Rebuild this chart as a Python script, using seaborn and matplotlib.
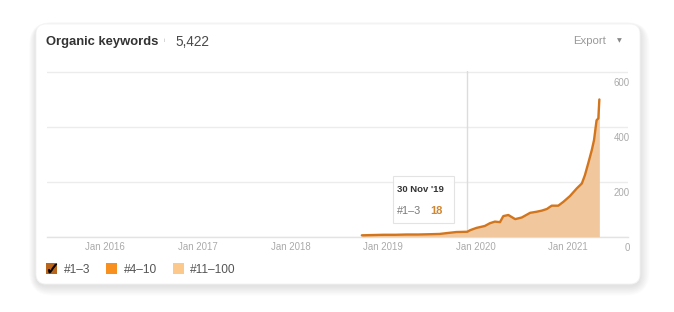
import matplotlib
matplotlib.use("Agg")
import matplotlib.pyplot as plt
import matplotlib.dates as mdates
from matplotlib.patches import FancyBboxPatch, Rectangle, Patch
from matplotlib.lines import Line2D
from matplotlib.transforms import ScaledTranslation
import pandas as pd
import seaborn as sns

# ---------------- data ----------------
dates = ["2018-10-10", "2018-11-20", "2019-01-05", "2019-02-20", "2019-04-05",
         "2019-05-20", "2019-07-05", "2019-08-13", "2019-09-09", "2019-10-18",
         "2019-11-30", "2019-12-12", "2020-01-05", "2020-02-07", "2020-02-27",
         "2020-03-18", "2020-04-07", "2020-04-20", "2020-05-10", "2020-06-06",
         "2020-07-02", "2020-08-04", "2020-08-30", "2020-09-19", "2020-10-09",
         "2020-10-28", "2020-11-23", "2020-12-13", "2021-01-08", "2021-02-04",
         "2021-02-24", "2021-03-08", "2021-03-21", "2021-04-04", "2021-04-13",
         "2021-04-23", "2021-04-30", "2021-05-04"]
top3 = [5, 6, 7, 7, 8, 8, 9, 10, 13, 17, 18, 24, 32, 39, 49, 55, 53, 75, 79, 64,
        70, 87, 91, 95, 101, 113, 113, 127, 148, 176, 194, 224, 267, 315, 352,
        424, 431, 500]
y_ticks = [0, 200, 400, 600]
legend_labels = ["#1–3", "#4–10", "#11–100"]
legend_colors = ["#b9661c", "#f7901e", "#fcc88c"]
title = "Organic keywords"
total = "5,422"
tooltip_date = "2019-11-30"
tooltip_title = "30 Nov '19"
tooltip_value = "18"

df = pd.DataFrame({"date": pd.to_datetime(dates), "value": top3})

# ---------------- style ----------------
sns.set_style("white")
plt.rcParams["font.family"] = ["Liberation Sans", "DejaVu Sans"]

W, H = 674, 312
fig = plt.figure(figsize=(W / 100, H / 100), dpi=100)
fig.patch.set_facecolor("white")

# background canvas in pixel coordinates
bg = fig.add_axes([0, 0, 1, 1], zorder=0)
bg.set_xlim(0, W)
bg.set_ylim(H, 0)
bg.axis("off")

cx0, cy0, cx1, cy1 = 36, 24, 640, 284
for i in range(14, 0, -1):
    bg.add_patch(FancyBboxPatch((cx0 - i * 0.5, cy0 - i * 0.3 + 2), (cx1 - cx0) + i * 1.2,
                                (cy1 - cy0) + i * 1.0,
                                boxstyle="round,pad=0,rounding_size=%d" % (10 + i),
                                facecolor="#000000", edgecolor="none", alpha=0.008))
bg.add_patch(FancyBboxPatch((cx0, cy0), cx1 - cx0, cy1 - cy0,
                            boxstyle="round,pad=0,rounding_size=10",
                            facecolor="white", edgecolor="#f3f3f3", lw=0.6))

# header texts
bg.text(46, 42, title, fontsize=9.4, fontweight="bold", color="#333333", va="center", ha="left")
bg.text(163.5, 40, "i", fontsize=4.5, color="#bbbbbb", va="center", ha="left")
bg.text(175, 42, total, fontsize=9.8, color="#4a4a4a", va="center", ha="left")
bg.text(573, 41.5, "Export", fontsize=8.2, color="#999999", va="center", ha="left")
bg.text(617, 41, "▼", fontsize=4.5, color="#888888", va="center", ha="left",
        family=["DejaVu Sans"])

# ---------------- main plot ----------------
px_left, px_right, px_base = 47, 628, 236.7
ymax = 604
px_per_unit = (236.7 - 72) / 600
px_top = px_base - ymax * px_per_unit
ax = fig.add_axes([px_left / W, (H - px_base) / H, (px_right - px_left) / W,
                   (px_base - px_top) / H], zorder=2)
ax.set_facecolor("none")

sns.lineplot(data=df, x="date", y="value", ax=ax, color="#d2751c", lw=1.7, zorder=4)
ax.fill_between(df["date"], df["value"], 0, color="#f1c89e", lw=0, zorder=3)

ax.axvline(pd.Timestamp(tooltip_date), color="#dcdcdc", lw=1, zorder=2)

ax.set_xlim(pd.Timestamp("2015-05-17"), pd.Timestamp("2021-08-25"))
ax.set_ylim(0, ymax)
ax.set_xlabel("")
ax.set_ylabel("")

ax.xaxis.set_major_locator(mdates.YearLocator(1, month=1, day=1))
ax.xaxis.set_major_formatter(mdates.DateFormatter("%b %Y"))
ax.tick_params(axis="x", direction="in", length=7, width=1, color="#e6e6e6",
               labelsize=6.9, labelcolor="#aaaaaa", pad=3.5)

ax.yaxis.tick_right()
ax.set_yticks(y_ticks)
ax.set_yticklabels([str(v) for v in y_ticks])
ax.tick_params(axis="y", length=0, pad=0, labelsize=6.9, labelcolor="#aaaaaa")
offset = ScaledTranslation(0.02, -0.10, fig.dpi_scale_trans)
for t in ax.yaxis.get_major_ticks():
    t.label2.set_horizontalalignment("right")
    t.label2.set_transform(t.label2.get_transform() + offset)

ax.grid(axis="y", color="#ececec", lw=1)
ax.grid(axis="x", visible=False)
for s in ["top", "right", "left"]:
    ax.spines[s].set_visible(False)
ax.spines["bottom"].set_color("#e3e3e3")
ax.spines["bottom"].set_linewidth(1)

# ---------------- overlay (tooltip) ----------------
top = fig.add_axes([0, 0, 1, 1], zorder=5)
top.set_xlim(0, W)
top.set_ylim(H, 0)
top.axis("off")
top.set_facecolor("none")
top.add_patch(Rectangle((393, 176), 61, 47, facecolor="white", edgecolor="#e2e2e2",
                        lw=0.8, alpha=0.95))
top.text(397, 189, tooltip_title, fontsize=6.8, fontweight="bold", color="#333333",
         va="center", ha="left")
top.text(396.5, 211.5, "#1–3", fontsize=7.8, color="#7a7a7a", va="center", ha="left")
top.text(430, 211.5, tooltip_value, fontsize=8.0, fontweight="bold", color="#d3862e",
         va="center", ha="left")

# ---------------- legend ----------------
handles = [
    (Patch(facecolor=legend_colors[0], edgecolor="none"),
     Line2D([], [], marker=r"$\checkmark$", color="black", markersize=6.5,
            markeredgewidth=0.4, linestyle="none")),
    Patch(facecolor=legend_colors[1], edgecolor="none"),
    Patch(facecolor=legend_colors[2], edgecolor="none"),
]
fig.legend(handles, legend_labels, loc="center left",
           bbox_to_anchor=(46 / W, 1 - 269.5 / H), ncol=3, frameon=False,
           fontsize=8.6, labelcolor="#555555", handlelength=0.95, handleheight=0.95,
           handletextpad=0.55, columnspacing=1.3, borderpad=0, borderaxespad=0)

fig.savefig("out.png", dpi=100, facecolor="white")
